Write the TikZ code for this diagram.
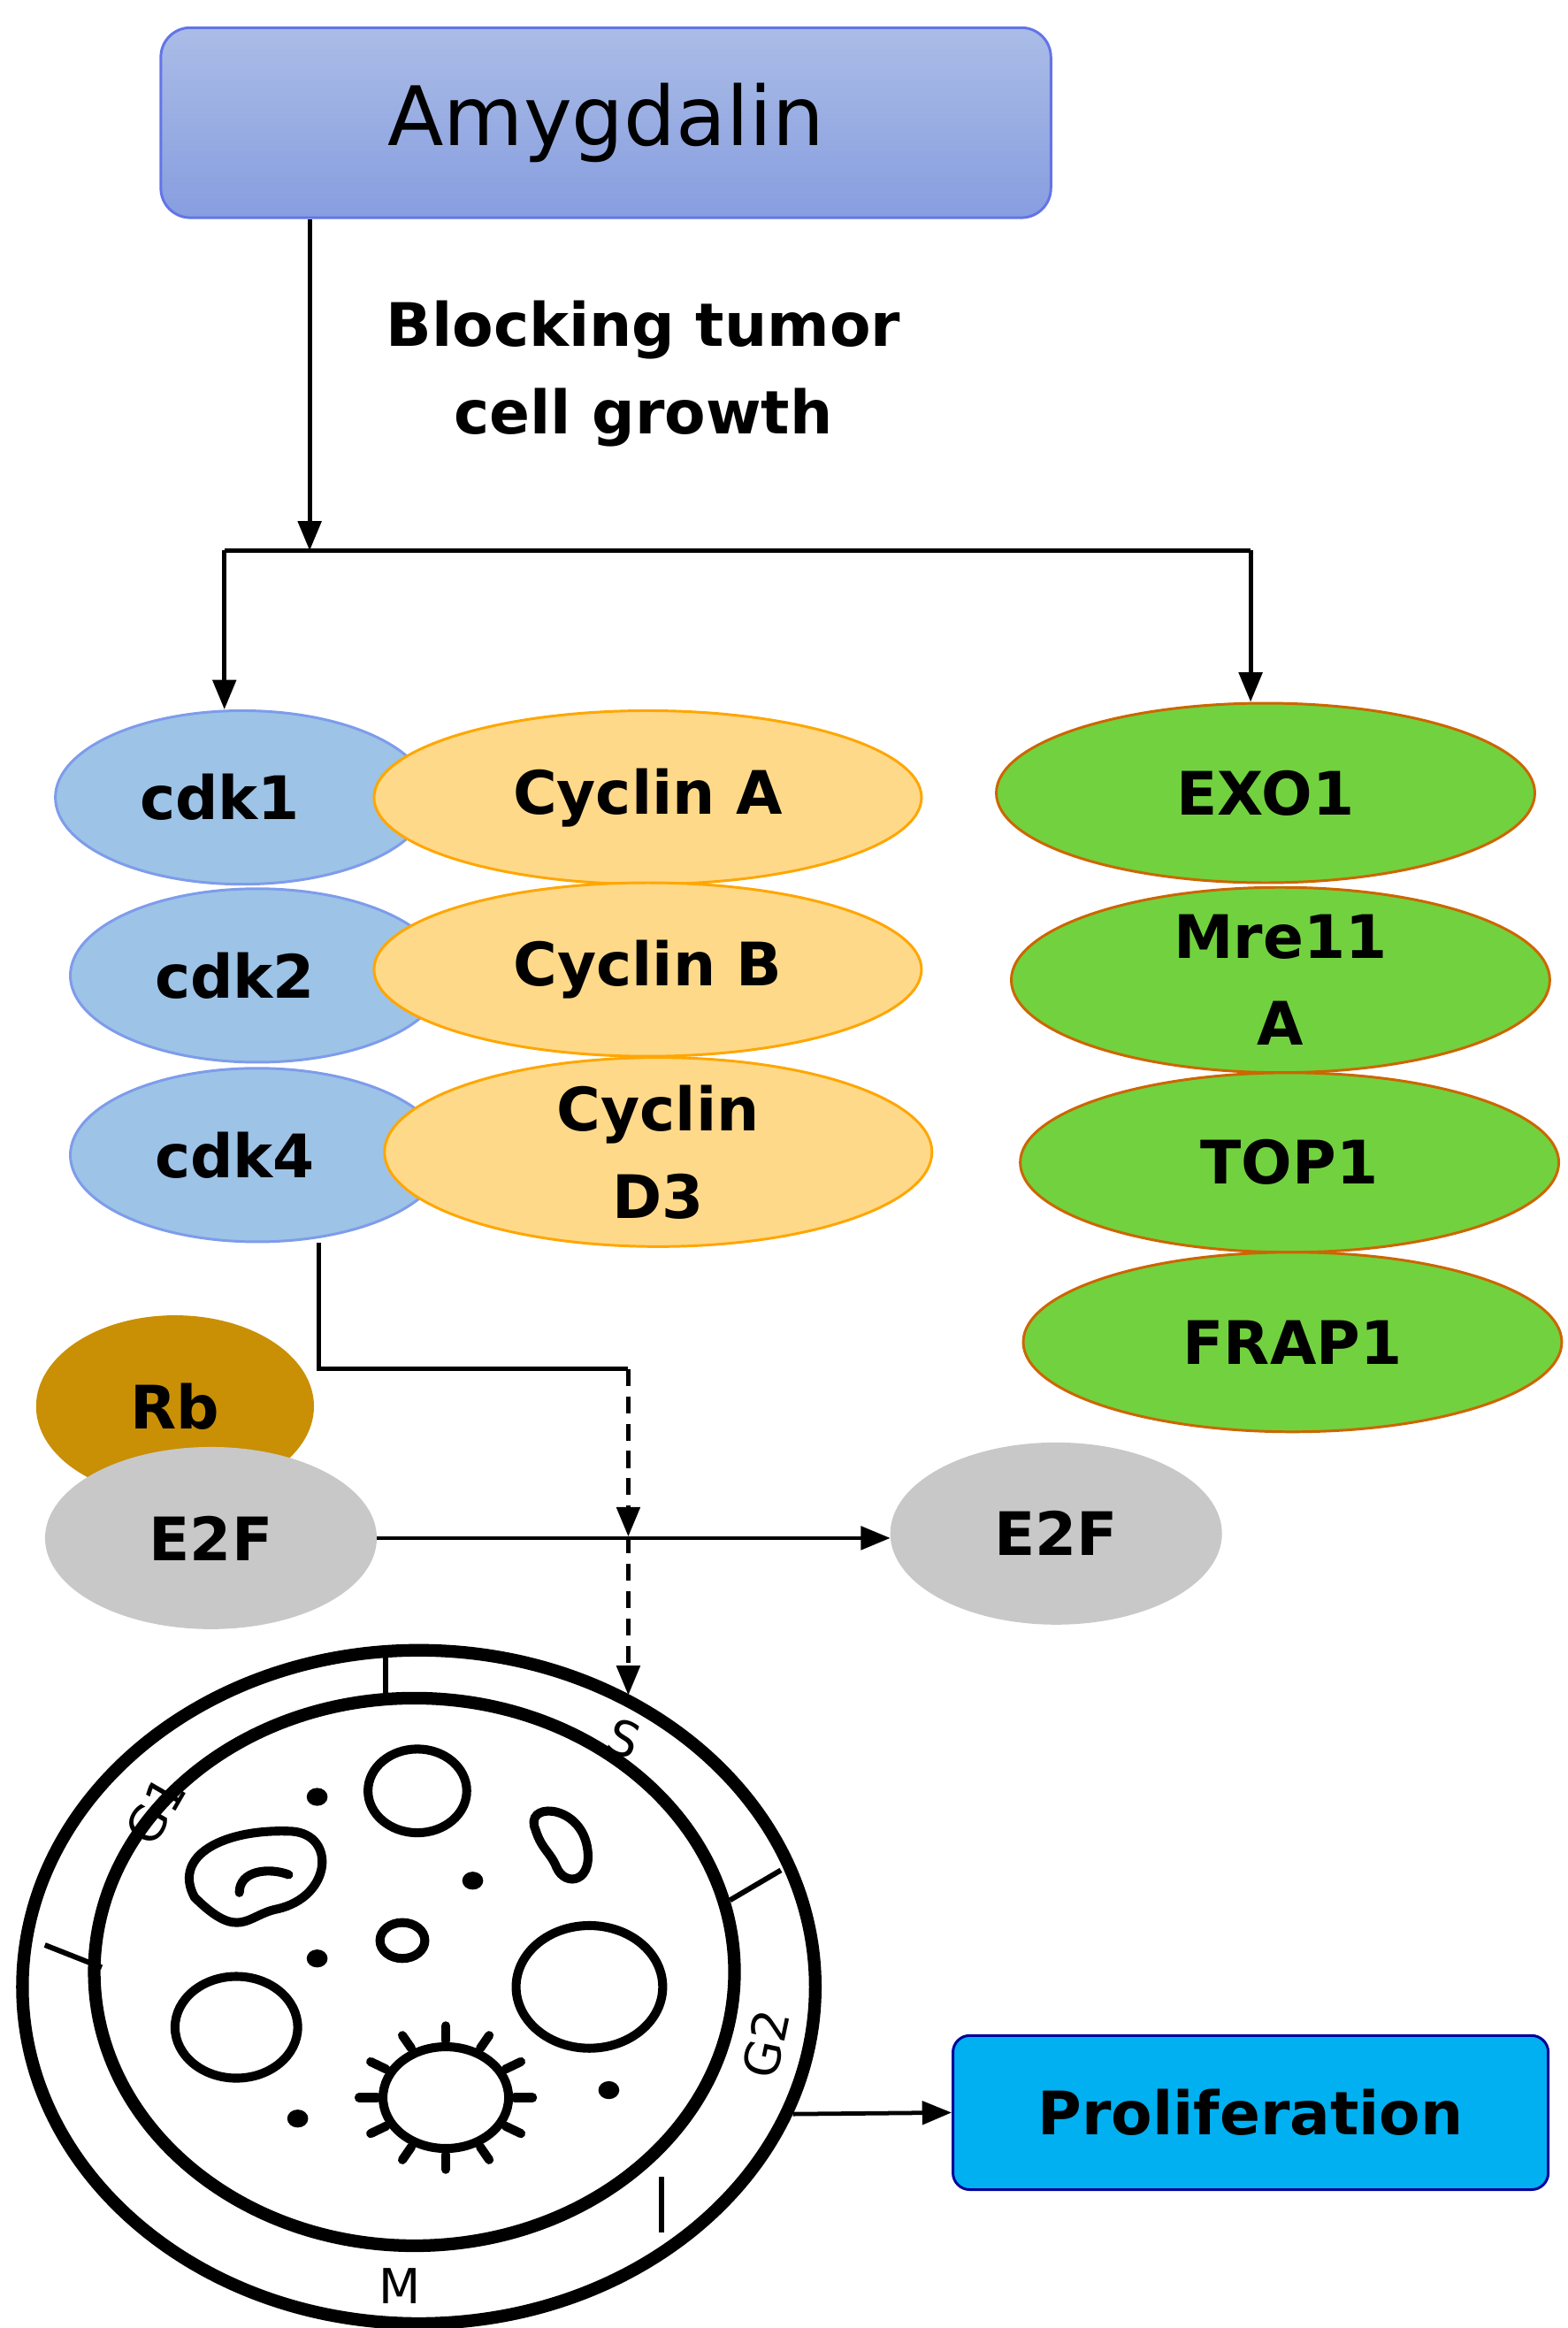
\documentclass[tikz,border=0pt]{standalone}
\usepackage{fontspec}
\setmainfont{DejaVu Sans}
\usetikzlibrary{shapes.geometric,arrows.meta,calc}
\definecolor{boxblue}{HTML}{8EA6DE}
\definecolor{cdkblue}{HTML}{9DC3E6}
\definecolor{cycyel}{HTML}{FFD98A}
\definecolor{gengreen}{HTML}{72D13F}
\definecolor{rbbrown}{HTML}{C98F05}
\definecolor{efgray}{HTML}{C8C8C8}
\definecolor{prolblue}{HTML}{00B0F0}
\tikzstyle{bigfig}=[x=0.05cm,y=-0.05cm]
\tikzstyle{lbl}=[font=\fontsize{57}{83}\selectfont\bfseries,align=center]
\tikzstyle{blob}=[ellipse,draw,line width=2.5pt,inner sep=0pt,lbl]
\tikzstyle{cdk}=[blob,fill=cdkblue,draw=cdkblue!80!blue,minimum width=12.5cm,minimum height=5.8cm]
\tikzstyle{cyc}=[blob,fill=cycyel,draw=orange!70!yellow,minimum width=18.3cm,minimum height=5.8cm]
\tikzstyle{gene}=[blob,fill=gengreen,draw=orange!80!black,minimum width=18cm,minimum height=6cm]
\tikzstyle{arr}=[line width=4pt,-{Triangle[length=28pt,width=22pt]}]
\tikzstyle{cellline}=[line width=12pt]
\tikzstyle{organelle}=[line width=8.5pt]
\tikzstyle{phase}=[font=\fontsize{46}{50}\selectfont]

\begin{document}
\begin{tikzpicture}[style=bigfig]
\useasboundingbox (0,0) rectangle (1048,1556);

\node[draw=boxblue!70!blue,line width=2.5pt,rounded corners=28pt,
  top color=boxblue!75!white,bottom color=boxblue!95!blue,minimum width=29.75cm,minimum height=6.35cm,
  font=\fontsize{78}{90}\selectfont] (amyg) at (405,82) {Amygdalin};

\node[lbl] (block) at (430,250) {Blocking tumor\\cell growth};

\coordinate (split) at (207,368);
\coordinate (splitL) at (150,368);
\coordinate (splitR) at (836,368);
\draw[arr] (amyg.south -| split) -- (split);
\draw[line width=4pt] (splitL) -- (splitR);

% cdk / cyclin pairs
\node[cdk] (cdk1) at (162,533) {\hspace*{-1.5cm}cdk1};
\node[cdk] (cdk2) at (172,652) {\hspace*{-1.5cm}cdk2};
\node[cdk] (cdk4) at (172,772) {\hspace*{-1.5cm}cdk4};
\node[cyc] (cycA) at (433,533) {Cyclin A};
\node[cyc] (cycB) at (433,648) {Cyclin B};
\node[cyc] (cycD) at (440,770) {Cyclin\\D3};

\node[gene] (exo) at (846,530) {EXO1};
\node[gene] (mre) at (856,655) {Mre11\\A};
\node[gene] (top) at (862,777) {TOP1};
\node[gene] (frap) at (864,897) {FRAP1};

\draw[arr] (splitL) -- (splitL |- cdk1.north);
\draw[arr] (splitR) -- (splitR |- exo.north);

% Rb / E2F
\node[blob,fill=rbbrown,draw=rbbrown,minimum width=9.2cm,minimum height=6cm] (rb) at (117,940) {Rb};
\node[blob,fill=efgray,draw=efgray,minimum width=11cm,minimum height=6cm] (efL) at (141,1028) {E2F};
\node[blob,fill=efgray,draw=efgray,minimum width=11cm,minimum height=6cm] (efR) at (706,1025) {E2F};
\draw[arr] (efL.east) -- (efL.east -| efR.west);

\coordinate (bend) at (213,915);
\coordinate (drop) at (420,915);
\coordinate (cross) at (420,1027);
\draw[line width=4pt] (cdk4.south -| bend) -- (bend) -- (drop);
\draw[arr,dashed,dash pattern=on 16pt off 10pt] (drop) -- (cross);

% cell
\coordinate (cc) at (280,1328);
\draw[cellline] (cc) ellipse [x radius=265,y radius=225];
\draw[cellline] (277,1318) ellipse [x radius=214,y radius=183];
\coordinate (celltop) at (420,1133);
\draw[arr,dashed,dash pattern=on 16pt off 10pt] (cross) -- (celltop);
\draw[line width=5pt] (258,1105) -- (258,1140);
\draw[line width=5pt] (30,1300) -- (68,1315);
\draw[line width=5pt] (488,1270) -- (522,1250);
\draw[line width=5pt] (442,1455) -- (442,1492);
\node[phase,rotate=-20] (sS) at (417,1162) {S};
\node[phase,rotate=60] (sG1) at (104,1210) {G1};
\node[phase,rotate=78] (sG2) at (512,1366) {G2};
\node[phase] (sM) at (267,1528) {M};

% organelles
\draw[organelle] (279,1197) ellipse [x radius=33,y radius=28];
\draw[organelle] (269,1297) ellipse [x radius=15,y radius=12];
\draw[organelle] (158,1355) ellipse [x radius=41,y radius=34];
\draw[organelle] (394,1328) ellipse [x radius=49,y radius=41];
\foreach \dx/\dy in {212/1201,316/1257,212/1309,407/1397,199/1416}
  \fill (\dx,\dy) circle [x radius=7,y radius=6];
\draw[organelle] (130,1268) .. controls (115,1240) and (150,1222) .. (195,1224)
  .. controls (225,1226) and (222,1268) .. (185,1276) .. controls (165,1280) and (160,1298) .. (130,1268) -- cycle;
\draw[organelle,line cap=round] (160,1265) .. controls (160,1250) and (180,1248) .. (193,1253);
\draw[organelle] (358,1223) .. controls (350,1205) and (385,1205) .. (392,1232)
  .. controls (398,1258) and (378,1262) .. (372,1248) .. controls (368,1238) and (362,1236) .. (358,1223) -- cycle;
\draw[organelle] (298,1402) ellipse [x radius=42,y radius=34];
\foreach \a in {0,30,...,330}
  \draw[organelle,line cap=round] ($(298,1402)+(\a:46 and 38)$) -- ($(298,1402)+(\a:58 and 48)$);

\node[draw=blue!60!black,line width=2.5pt,fill=prolblue,rounded corners=16pt,
  minimum width=19.9cm,minimum height=5.15cm,lbl] (prol) at (836,1412) {Proliferation};
\coordinate (cellright) at (530,1413);
\draw[arr] (cellright) -- (prol.west);
\end{tikzpicture}
\end{document}
